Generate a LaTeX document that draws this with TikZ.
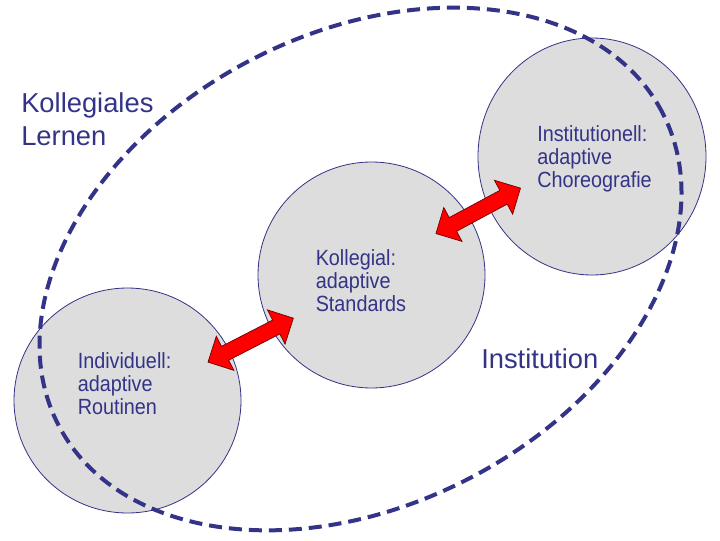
\documentclass[tikz,border=0pt]{standalone}
\usepackage{fontspec}
\setmainfont{Liberation Sans}
\newfontfamily\schmal[FakeStretch=0.9]{Liberation Sans}
\usetikzlibrary{shapes.geometric,shapes.arrows}
\definecolor{tinte}{HTML}{333388}
\definecolor{kreisgrau}{HTML}{DDDDDD}
\tikzset{every node/.style={text=tinte},
  kreis/.style={ellipse,draw=tinte,line width=0.6pt,fill=kreisgrau,inner sep=0pt},
  pfeil/.style={double arrow,draw=black!60!red,line width=0.5pt,fill=red,inner xsep=0pt,inner ysep=5.6pt,
    minimum width=0pt,double arrow head extend=8.6pt,minimum height=72pt,sloped},
  innen/.style={anchor=base west,align=left,inner sep=0pt,font=\schmal\fontsize{16.5}{17.25}\selectfont},
  aussen/.style={anchor=base west,align=left,inner sep=0pt,font=\fontsize{20.5}{25}\selectfont}}

\begin{document}
\begin{tikzpicture}[x=0.75pt,y=0.75pt]
  \path[use as bounding box] (0,0) rectangle (720,540);
  \node[kreis,minimum width=170.25pt,minimum height=168.75pt] (indiv) at (127.5,139.5) {};
  \node[kreis,minimum width=170.25pt,minimum height=169.5pt] (koll) at (371.5,265) {};
  \node[kreis,minimum width=171pt,minimum height=177.75pt] (inst) at (592,383.5) {};
  \draw[tinte,line width=3pt,dash pattern=on 9.75pt off 5.25pt,rotate around={27.3:(360.5,271)}]
    (360.5,271) ellipse [x radius=340,y radius=236];
  \path (indiv) -- node[pfeil,yshift=-2pt] (pfeilA) {} (koll);
  \path (koll) -- node[pfeil,yshift=4.5pt] (pfeilB) {} (inst);
  \node[aussen] (lernen) at (21,394) {Kollegiales\\Lernen};
  \node[aussen] (institution) at (481,171.7) {Institution};
  \node[innen] (txtinst) at (537,352.7) {Institutionell:\\adaptive\\Choreografie};
  \node[innen] (txtkoll) at (315.5,228.3) {Kollegial:\\adaptive\\Standards};
  \node[innen] (txtindiv) at (77.5,126) {Individuell:\\adaptive\\Routinen};
\end{tikzpicture}
\end{document}
